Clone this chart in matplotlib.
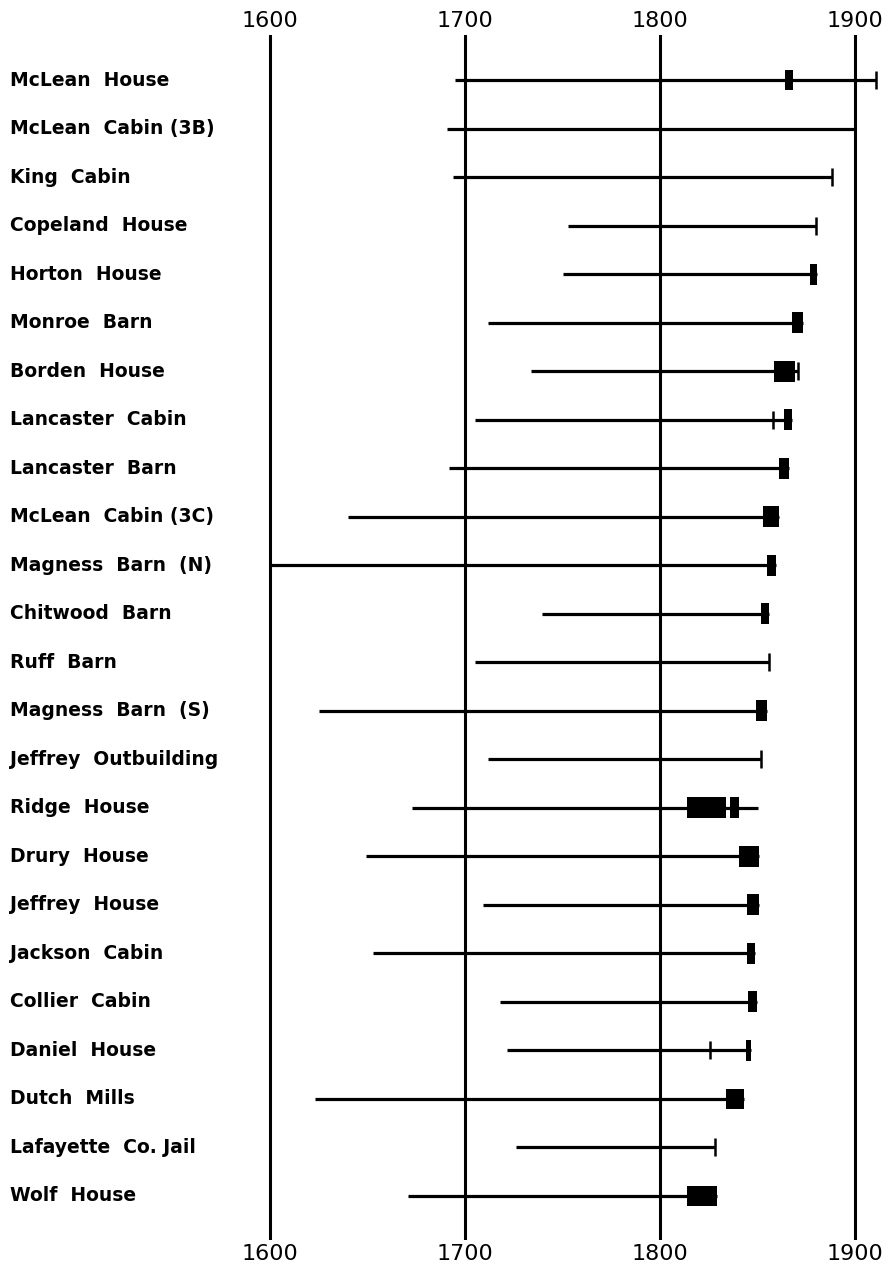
import matplotlib
matplotlib.use("Agg")
import matplotlib.pyplot as plt
import matplotlib.transforms as transforms

# buildings, top to bottom
names = ["McLean  House", "McLean  Cabin (3B)", "King  Cabin", "Copeland  House",
         "Horton  House", "Monroe  Barn", "Borden  House", "Lancaster  Cabin",
         "Lancaster  Barn", "McLean  Cabin (3C)", "Magness  Barn  (N)", "Chitwood  Barn",
         "Ruff  Barn", "Magness  Barn  (S)", "Jeffrey  Outbuilding", "Ridge  House",
         "Drury  House", "Jeffrey  House", "Jackson  Cabin", "Collier  Cabin",
         "Daniel  House", "Dutch  Mills", "Lafayette  Co. Jail", "Wolf  House"]

# earliest and latest year of each range
starts = [1695, 1691, 1694, 1753, 1750, 1712, 1734, 1705, 1692, 1640, 1600, 1739.5,
          1705, 1625, 1712, 1673, 1649, 1709, 1653, 1718, 1721.5, 1623, 1726, 1671]
ends = [1911, 1900, 1888, 1880, 1880.5, 1873.3, 1871, 1867.7, 1866, 1861, 1859.5, 1856,
        1856, 1855, 1852, 1850, 1851, 1851, 1848.7, 1849.7, 1846.7, 1843, 1828, 1829]

# filled blocks (lo, hi) per building
boxes = [[(1864, 1868)], [], [], [], [(1877, 1880.5)], [(1867.5, 1873.3)],
         [(1858.5, 1869)], [(1863.5, 1867.7)], [(1861, 1866)], [(1853, 1861)],
         [(1855, 1859.5)], [(1852, 1856)], [], [(1849, 1855)], [],
         [(1814, 1834), (1836, 1840.5)], [(1840.5, 1851)], [(1844.6, 1851)],
         [(1844.6, 1848.7)], [(1845, 1849.7)], [(1844, 1846.7)], [(1834, 1843)],
         [], [(1814, 1829)]]

# small end ticks per building
ticks = [[1911], [], [1888], [1880], [], [], [1871], [1858], [], [], [], [],
         [1856], [], [1852], [], [], [], [], [], [1825.6], [], [1828], []]

years = [1600, 1700, 1800, 1900]

plt.rcParams['font.family'] = ['DejaVu Sans']

fig = plt.figure(figsize=(8.91, 12.71), dpi=100)
W, H = 891, 1271
ax = fig.add_axes([260 / W, (H - 1240) / H, 620 / W, 1205 / H])

px = 1.95  # pixels per year
ax.set_xlim(1600 - 10 / px, 1600 + 610 / px)
step = 48.52
ax.set_ylim(23 + (1240 - 1196) / step, -(80 - 35) / step)

for yr in years:
    ax.axvline(yr, color='black', lw=2.2, zorder=1)

rows = list(range(len(names)))
ax.hlines(rows, starts, ends, color='black', lw=2.3, zorder=2)

for i, bl in enumerate(boxes):
    for lo, hi in bl:
        ax.barh(i, hi - lo, left=lo, height=0.43, color='black', zorder=3)
for i, tl in enumerate(ticks):
    for t in tl:
        ax.plot(t, i, marker='|', color='black', markersize=13, mew=1.8, zorder=3)

trans = transforms.blended_transform_factory(fig.transFigure, ax.transData)
for i, name in enumerate(names):
    ax.text(10 / W, i, name, transform=trans, ha='left', va='center',
            fontsize=13.5, fontweight='bold')

ax.set_xticks(years)
ax.set_xticklabels([str(y) for y in years])
ax.set_yticks([])
ax.tick_params(axis='x', top=True, labeltop=True, bottom=True, labelbottom=True,
               length=0, labelsize=16, pad=3)
ax.tick_params(axis='x', which='major', pad=3)
for s in ax.spines.values():
    s.set_visible(False)

fig.savefig('out.png', dpi=100)
